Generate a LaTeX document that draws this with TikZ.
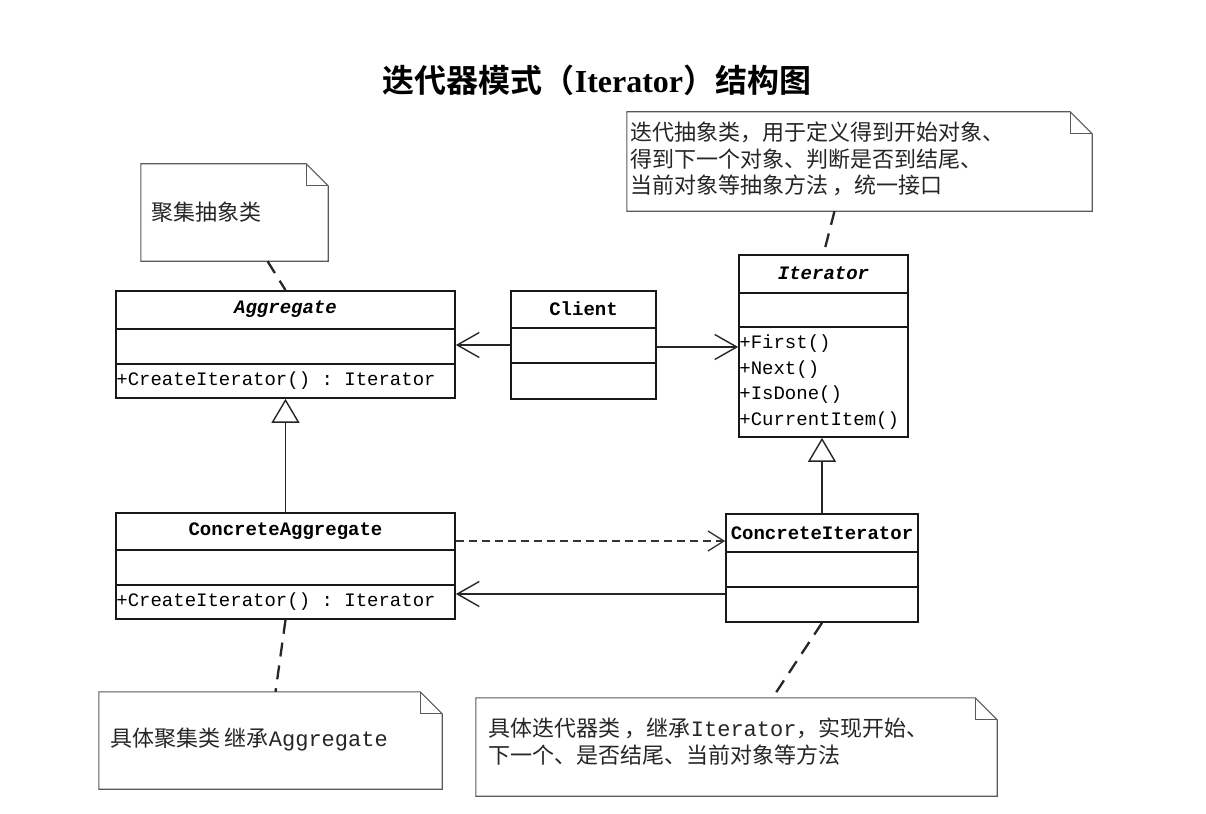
\documentclass[tikz,border=0pt]{standalone}
\usepackage{fontspec}
\setmainfont{Liberation Serif}
\setmonofont{Liberation Mono}
\newfontfamily\cjk{Noto Sans CJK SC}
\newfontfamily\cjkb{Noto Sans CJK SC Bold}
\usetikzlibrary{arrows.meta}
\tikzset{
  box/.style={draw=black!90, line width=1.7pt, rectangle, inner sep=0pt},
  notebox/.style={rectangle, draw=none, inner sep=0pt},
  notedraw/.style={draw=black!65, line width=1.1pt},
  divider/.style={draw=black!90, line width=1.5pt},
  cname/.style={inner sep=0pt, font=\ttfamily\bfseries\fontsize{19}{22}\selectfont},
  cnamei/.style={inner sep=0pt, font=\ttfamily\bfseries\itshape\fontsize{19}{22}\selectfont},
  member/.style={inner sep=0pt, anchor=west, font=\ttfamily\fontsize{19}{22}\selectfont},
  notetext/.style={inner sep=0pt, anchor=west, text=black!85, font=\fontsize{22}{26.5}\selectfont, align=left},
  assoc/.style={line width=1.4pt, draw=black!85, -{Straight Barb[length=22pt,width=25pt,line width=1.4pt]}},
  depend/.style={line width=1.3pt, draw=black!80, dash pattern=on 8pt off 5pt, -{Straight Barb[length=16pt,width=20pt,line width=1.3pt]}},
  general/.style={line width=1.4pt, draw=black!85, -{Triangle[length=24pt,width=28pt,fill=white,line width=1.4pt]}},
  notelink/.style={line width=2.3pt, draw=black!85, dash pattern=on 14pt off 9pt},
}
\newcommand\umlnotefold[1]{%
  \draw[notedraw] (#1.north west) -- ([xshift=-22pt]#1.north east) -- ([yshift=-22pt]#1.north east) -- (#1.south east) -- (#1.south west) -- cycle;
  \draw[notedraw] ([xshift=-22pt]#1.north east) |- ([yshift=-22pt]#1.north east);
}
\begin{document}
\begin{tikzpicture}[x=1pt,y=-1pt]
\fill[white] (0,0) rectangle (1206,813);
\path[use as bounding box] (0,0) rectangle (1206,813);

% title
\node[inner sep=0pt, font=\fontsize{32}{36}\selectfont] (title) at (597,80)
  {{\cjkb 迭代器模式（}{\bfseries Iterator}{\cjkb ）结构图}};

% classes
\node[box, minimum width=339pt, minimum height=107pt] (agg) at (285.5,344.5) {};
\draw[divider] ([yshift=-39pt]agg.north west) -- ([yshift=-39pt]agg.north east);
\draw[divider] ([yshift=-74pt]agg.north west) -- ([yshift=-74pt]agg.north east);
\node[cnamei] (aggname) at ([yshift=-19.5pt]agg.north) {Aggregate};
\node[member] (aggm) at ([xshift=1pt,yshift=-90.5pt]agg.north west) {+CreateIterator() : Iterator};

\node[box, minimum width=145pt, minimum height=108pt] (cl) at (583.5,345) {};
\draw[divider] ([yshift=-38pt]cl.north west) -- ([yshift=-38pt]cl.north east);
\draw[divider] ([yshift=-73pt]cl.north west) -- ([yshift=-73pt]cl.north east);
\node[cname] (clname) at ([yshift=-19pt]cl.north) {Client};

\node[box, minimum width=169pt, minimum height=182pt] (it) at (823.5,346) {};
\draw[divider] ([yshift=-39pt]it.north west) -- ([yshift=-39pt]it.north east);
\draw[divider] ([yshift=-73pt]it.north west) -- ([yshift=-73pt]it.north east);
\node[cnamei] (itname) at ([yshift=-19.5pt]it.north) {Iterator};
\node[member] (itm1) at ([xshift=1pt,yshift=-89pt]it.north west) {+First()};
\node[member] (itm2) at ([xshift=1pt,yshift=-115pt]it.north west) {+Next()};
\node[member] (itm3) at ([xshift=1pt,yshift=-140pt]it.north west) {+IsDone()};
\node[member] (itm4) at ([xshift=1pt,yshift=-166pt]it.north west) {+CurrentItem()};

\node[box, minimum width=339pt, minimum height=106pt] (cagg) at (285.5,566) {};
\draw[divider] ([yshift=-38pt]cagg.north west) -- ([yshift=-38pt]cagg.north east);
\draw[divider] ([yshift=-73pt]cagg.north west) -- ([yshift=-73pt]cagg.north east);
\node[cname] (caggname) at ([yshift=-19pt]cagg.north) {ConcreteAggregate};
\node[member] (caggm) at ([xshift=1pt,yshift=-89.5pt]cagg.north west) {+CreateIterator() : Iterator};

\node[box, minimum width=192pt, minimum height=108pt] (cit) at (822,568) {};
\draw[divider] ([yshift=-39pt]cit.north west) -- ([yshift=-39pt]cit.north east);
\draw[divider] ([yshift=-74pt]cit.north west) -- ([yshift=-74pt]cit.north east);
\node[cname] (citname) at ([yshift=-20pt]cit.north) {ConcreteIterator};

% notes
\node[notebox, minimum width=187pt, minimum height=97pt] (n1) at (234.5,212.5) {};
\umlnotefold{n1}
\node[notetext] (n1t) at ([xshift=10pt]n1.west) {\cjk 聚集抽象类};

\node[notebox, minimum width=465pt, minimum height=99pt] (n2) at (859.5,161.5) {};
\umlnotefold{n2}
\node[notetext, anchor=north west] (n2t) at ([xshift=3pt,yshift=-10pt]n2.north west)
  {\cjk 迭代抽象类，用于定义得到开始对象、\\\cjk 得到下一个对象、判断是否到结尾、\\\cjk 当前对象等抽象方法 ，统一接口};

\node[notebox, minimum width=343pt, minimum height=97pt] (n3) at (270.5,740.5) {};
\umlnotefold{n3}
\node[notetext] (n3t) at ([xshift=11pt,yshift=1pt]n3.west) {{\cjk 具体聚集类 继承}{\ttfamily Aggregate}};

\node[notebox, minimum width=521pt, minimum height=98pt] (n4) at (736.5,747) {};
\umlnotefold{n4}
\node[notetext, anchor=north west] (n4t) at ([xshift=12pt,yshift=-20pt]n4.north west)
  {{\cjk 具体迭代器类 ，继承}{\ttfamily Iterator}{\cjk ，实现开始、}\\\cjk 下一个、是否结尾、当前对象等方法};

% connectors
\draw[assoc] (cl.west) -- (cl.west -| agg.east);
\draw[assoc] ([yshift=-2pt]cl.east) -- ([yshift=-2pt]cl.east -| it.west);
\draw[general] (cagg.north) -- (agg.south);
\draw[general] (cit.north) -- (cit.north |- it.south);
\draw[depend] ([yshift=25pt]cagg.east) -- ([yshift=25pt]cagg.east -| cit.west);
\draw[assoc] ([yshift=-28pt]cagg.east -| cit.west) -- ([yshift=-28pt]cagg.east);

\draw[notelink] ([xshift=33pt]n1.south) -- (agg.north);
\draw[notelink] ([xshift=-25pt]n2.south) -- (it.north);
\draw[notelink] (cagg.south) -- ([xshift=5pt]n3.north);
\draw[notelink] (cit.south) -- ([xshift=36pt]n4.north);
\end{tikzpicture}
\end{document}
